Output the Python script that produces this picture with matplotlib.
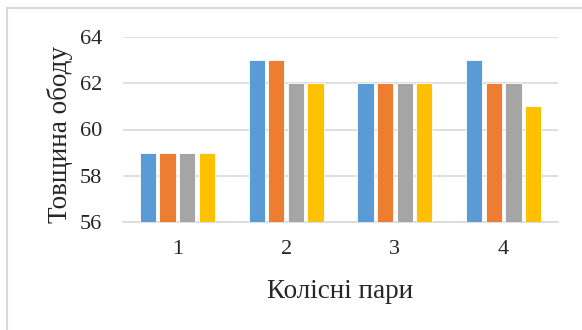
import matplotlib
matplotlib.use('Agg')
import matplotlib.pyplot as plt
import numpy as np
from matplotlib.lines import Line2D

pairs = ['1', '2', '3', '4']
series_a = [59, 63, 62, 63]
series_b = [59, 63, 62, 62]
series_c = [59, 62, 62, 62]
series_d = [59, 62, 62, 61]
yticks = [56, 58, 60, 62, 64]

colors = ['#5B9BD5', '#ED7D31', '#A5A5A5', '#FFC000']
text_color = '#262626'

plt.rcParams['font.family'] = ['Liberation Serif', 'DejaVu Serif']

W, H = 582, 330
fig = plt.figure(figsize=(W / 100, H / 100), dpi=100)

# light frame on the left and top of the chart area
x0, y0 = 7 / W, 1 - 8 / H
fig.add_artist(Line2D([x0, x0], [0, y0], transform=fig.transFigure,
                      color='#D9D9D9', linewidth=1.5))
fig.add_artist(Line2D([x0, 1], [y0, y0], transform=fig.transFigure,
                      color='#D9D9D9', linewidth=1.5))

ax = fig.add_axes([123 / W, 1 - 222 / H, 435 / W, 185 / H])

x = np.arange(len(pairs))
step = 0.18
width = 0.15
for i, (vals, c) in enumerate(zip([series_a, series_b, series_c, series_d], colors)):
    ax.bar(x + (i - 1.5) * step, np.array(vals) - 56, bottom=56, width=width,
           color=c, edgecolor='white', linewidth=0.6, zorder=3)

ax.set_ylim(56, 64)
ax.set_xlim(-0.5, 3.5)
ax.set_yticks(yticks)
ax.set_xticks(x)
ax.set_xticklabels(pairs)
ax.grid(axis='y', color='#D9D9D9', linewidth=1.2, zorder=0)
for s in ['top', 'right', 'left']:
    ax.spines[s].set_visible(False)
ax.spines['bottom'].set_color('#D9D9D9')
ax.spines['bottom'].set_linewidth(1.2)
ax.tick_params(axis='both', length=0, labelsize=16, colors=text_color)
ax.tick_params(axis='y', pad=15)
ax.tick_params(axis='x', pad=13)

# axis titles placed in pixel positions of the figure
fig.text(340 / W, 1 - 298 / H, 'Колісні пари', fontsize=19.5,
         color=text_color, ha='center', va='baseline')
fig.text(67 / W, 1 - 134.5 / H, 'Товщина ободу', fontsize=19.5,
         color=text_color, ha='center', va='baseline', rotation=90,
         rotation_mode='anchor')

fig.savefig('out.png', dpi=100, facecolor='white')
